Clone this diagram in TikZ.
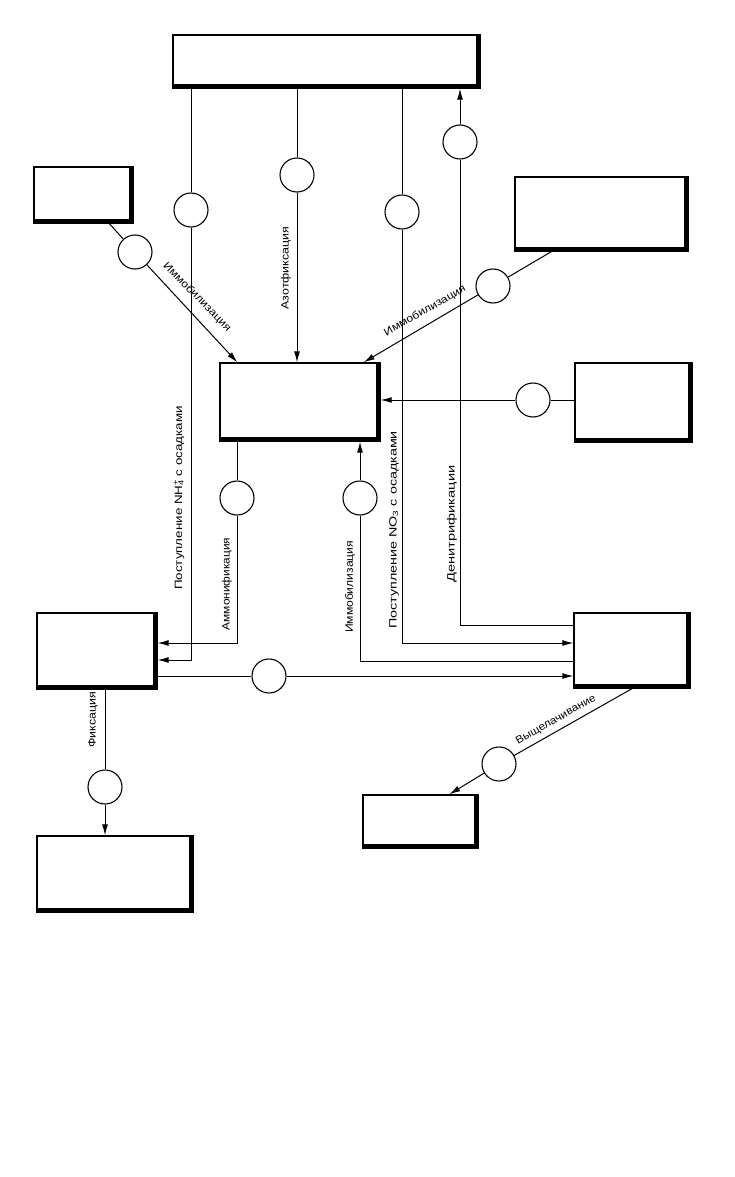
\documentclass[tikz,border=0pt]{standalone}
\usepackage{fontspec}
\setmainfont{Liberation Sans}
\usetikzlibrary{arrows.meta}
\tikzset{
 box/.style={draw, line width=1.3pt, fill=white, inner sep=0pt},
 circ/.style={draw, circle, line width=1.1pt, minimum size=34pt, inner sep=0pt, fill=white},
 conn/.style={line width=1pt},
 arr/.style={line width=1pt, -{Latex[length=11pt,width=6pt]}},
 lbl/.style={inner sep=0pt, font=\fontsize{10.6}{12}\selectfont},
 shadowedge/.style={line width=4.5pt, line join=miter},
}
\newcommand\stretched[2]{\scalebox{#1}[1]{#2}}
\newcommand\edgeshade[1]{\draw[shadowedge] ([yshift=2.25pt]#1.south west) -- ([xshift=-2.25pt,yshift=2.25pt]#1.south east) -- ([xshift=-2.25pt]#1.north east);}
\begin{document}
\begin{tikzpicture}[x=1pt,y=-1pt]
\useasboundingbox (0,0) rectangle (734,1177);
% boxes
\node[box, minimum width=307pt, minimum height=53pt] (T) at (326.5,61.5) {};
\node[box, minimum width=99pt, minimum height=56pt] (TL) at (83.5,195) {};
\node[box, minimum width=173pt, minimum height=74pt] (TR) at (601.5,214) {};
\node[box, minimum width=160pt, minimum height=78pt] (C) at (300,402) {};
\node[box, minimum width=117pt, minimum height=79pt] (R) at (633.5,402.5) {};
\node[box, minimum width=120pt, minimum height=76pt] (L) at (97,651) {};
\node[box, minimum width=116pt, minimum height=75pt] (RL) at (632,650.5) {};
\node[box, minimum width=156pt, minimum height=76pt] (BL) at (115,874) {};
\node[box, minimum width=115pt, minimum height=53pt] (BR) at (420.5,821.5) {};
\edgeshade{T}\edgeshade{TL}\edgeshade{TR}\edgeshade{C}\edgeshade{R}
\edgeshade{L}\edgeshade{RL}\edgeshade{BL}\edgeshade{BR}
% circles
\node[circ] (cNH) at (191,210) {};
\node[circ] (cAz) at (297,175) {};
\node[circ] (cNO) at (402,212) {};
\node[circ] (cDen) at (460,142) {};
\node[circ] (cImA) at (135,252) {};
\node[circ] (cImB) at (493,286) {};
\node[circ] (cR) at (533,400) {};
\node[circ] (cAm) at (237,498) {};
\node[circ] (cIm) at (360,498) {};
\node[circ] (cLR) at (269,676) {};
\node[circ] (cLe) at (499,764) {};
\node[circ] (cFi) at (105,787) {};
% corner coordinates
\coordinate (nh1) at (191,660);
\coordinate (no1) at (402,643);
\coordinate (de1) at (460,625);
\coordinate (am1) at (237,643);
\coordinate (im1) at (360,661);
% connectors
\draw[conn] (cNH |- T.south) -- (cNH.north);
\draw[arr] (cNH.south) -- (nh1) -- (nh1 -| L.east);
\draw[conn] (cAz |- T.south) -- (cAz.north);
\draw[arr] (cAz.south) -- (cAz |- C.north);
\draw[conn] (cNO |- T.south) -- (cNO.north);
\draw[arr] (cNO.south) -- (no1) -- (no1 -| RL.west);
\draw[conn] (de1 -| RL.west) -- (de1) -- (cDen.south);
\draw[arr] (cDen.north) -- (cDen |- T.south);
\draw[conn] (TL) -- (cImA);
\draw[arr] (cImA) -- ([xshift=18pt]C.north west);
\draw[conn] ([xshift=37pt]TR.south west) -- (cImB);
\draw[arr] (cImB) -- ([xshift=-17pt]C.north east);
\draw[conn] (R.west |- cR) -- (cR);
\draw[arr] (cR) -- (cR -| C.east);
\draw[conn] (cAm |- C.south) -- (cAm.north);
\draw[arr] (cAm.south) -- (am1) -- (am1 -| L.east);
\draw[conn] (im1 -| RL.west) -- (im1) -- (cIm.south);
\draw[arr] (cIm.north) -- (cIm |- C.south);
\draw[conn] (L.east |- cLR) -- (cLR);
\draw[arr] (cLR) -- (cLR -| RL.west);
\draw[conn] (RL.south) -- (cLe);
\draw[arr] (cLe) -- ([xshift=87pt]BR.north west);
\draw[conn] (L.south -| cFi) -- (cFi);
\draw[arr] (cFi) -- (cFi |- BL.north);
% labels
\node[lbl, rotate=90] (lAz) at (286,268) {\stretched{1.17}{Азотфиксация}};
\node[lbl, rotate=90] (lNH) at (179,498) {\stretched{1.26}{Поступление NH\rlap{\textsuperscript{+}}\textsubscript{4} с осадками}};
\node[lbl, rotate=90] (lAm) at (227,584) {\stretched{1.12}{Аммонификация}};
\node[lbl, rotate=90] (lIm) at (350,587) {\stretched{1.14}{Иммобилизация}};
\node[lbl, rotate=90] (lNO) at (394,530) {\stretched{1.35}{Поступление NO\textsubscript{3} с осадками}};
\node[lbl, rotate=90] (lDe) at (452,524) {\stretched{1.38}{Денитрификации}};
\node[lbl, rotate=90] (lFi) at (93,720) {\stretched{1.17}{Фиксация}};
\node[lbl, rotate=-45.4] (lImA) at (197,297) {\stretched{1.14}{Иммобилизация}};
\node[lbl, rotate=29.7] (lImB) at (425,311) {\stretched{1.14}{Иммобилизация}};
\node[lbl, rotate=29.5] (lLe) at (556,720) {\stretched{1.11}{Выщелачивание}};
\end{tikzpicture}
\end{document}
